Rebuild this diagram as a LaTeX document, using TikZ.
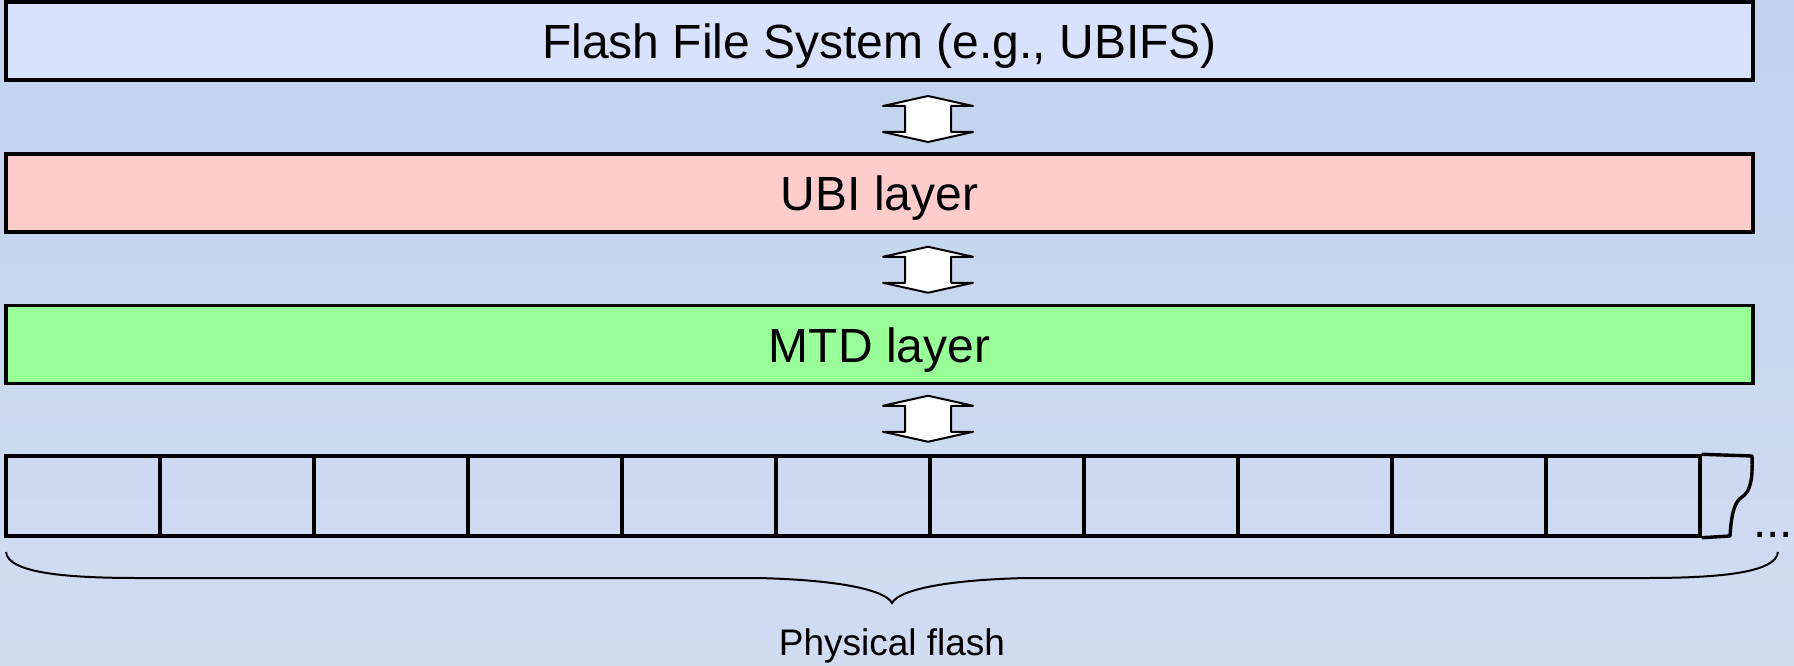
\documentclass[tikz,border=0pt]{standalone}
\usepackage{fontspec}
\setmainfont{Liberation Sans}
\usetikzlibrary{calc}

\definecolor{bgtop}{HTML}{C2D2EE}
\definecolor{bgbottom}{HTML}{D0DCF2}
\definecolor{fsfill}{HTML}{D8E2FD}
\definecolor{ubifill}{HTML}{FFCCCC}
\definecolor{mtdfill}{HTML}{99FF99}

\tikzset{
  layer/.style={draw=black, line width=3.4pt, minimum width=1747pt, minimum height=78pt,
    inner sep=0pt, font=\fontsize{48}{48}\selectfont, text height=35pt, text depth=0pt},
  eraseblock/.style={draw=black, line width=3.4pt, minimum width=154pt, minimum height=80pt,
    inner sep=0pt},
  blockarrow/.style={draw=black, fill=white, line width=2pt, line join=round},
  updown/.pic={\draw[blockarrow] (0,-23) -- (45,-13) -- (23,-13) -- (23,13) -- (45,13)
     -- (0,23) -- (-45,13) -- (-23,13) -- (-23,-13) -- (-45,-13) -- cycle;},
  bracestyle/.style={draw=black, line width=2pt},
}

\begin{document}
\begin{tikzpicture}[x=1pt, y=-1pt]
  % background
  \useasboundingbox (0,0) rectangle (1794,666);
  \shade[top color=bgtop, bottom color=bgbottom] (0,0) rectangle (1794,666);

  % layers
  \node[layer, fill=fsfill]  (fs)  at (879.5,41)    {Flash File System (e.g., UBIFS)};
  \node[layer, fill=ubifill] (ubi) at (879.5,193)   {UBI layer};
  \node[layer, fill=mtdfill] (mtd) at (879.5,344.5) {MTD layer};

  % erase blocks of the physical flash
  \foreach \i in {0,...,10} {
    \node[eraseblock] (b\i) at ({83+154*\i},496) {};
  }
  % torn-off last block
  \draw[line width=3.4pt, line join=round]
    (b10.north east) -- (1752,456)
    .. controls (1753,480) and (1750,492) .. (1742,497)
    .. controls (1733,502) and (1731,520) .. (1730,536)
    -- (b10.south east);
  \node[anchor=base west, inner sep=0pt, font=\fontsize{48}{48}\selectfont] (dots) at (1753,537) {...};

  % double arrows between layers
  \pic at ($($(fs.south)!0.5!(ubi.north)$)+(48.5,2)$) {updown};
  \pic at ($($(ubi.south)!0.5!(mtd.north)$)+(48.5,1)$) {updown};
  \pic at ($($(mtd.south)!0.5!(mtd.south |- b5.north)$)+(48.5,-1)$) {updown};

  % brace under the flash
  \coordinate (bl) at (6,552);
  \coordinate (br) at (1778,552);
  \coordinate (tip) at (892,603);
  \draw[bracestyle] (bl) .. controls (8,572) and (60,578) .. (138,578)
    -- (758,578) .. controls (840,580) and (885,590) .. (tip)
    .. controls (899,590) and (944,580) .. (1026,578)
    -- (1646,578) .. controls (1724,578) and (1776,572) .. (br);
  \node[anchor=base, inner sep=0pt, font=\fontsize{37}{37}\selectfont] (phys) at (892,655) {Physical flash};
\end{tikzpicture}
\end{document}
